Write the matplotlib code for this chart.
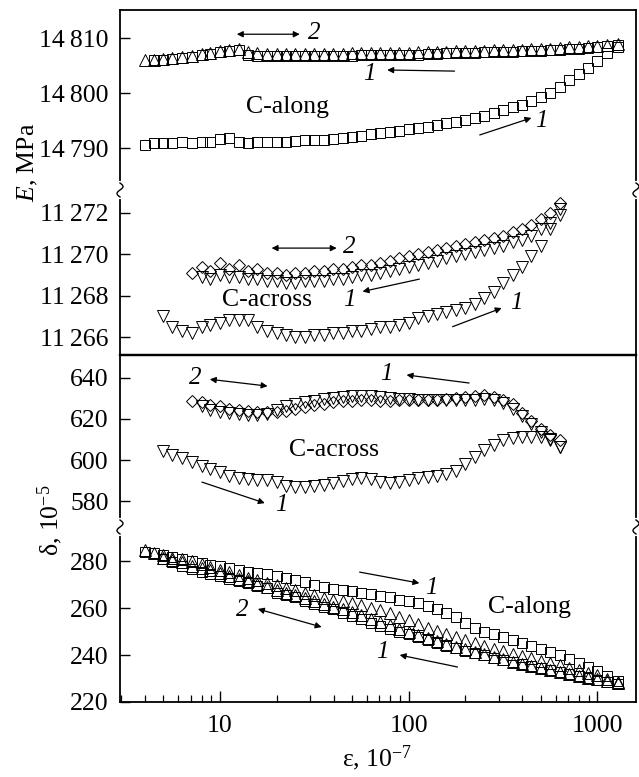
import numpy as np
import matplotlib.pyplot as plt
from matplotlib.lines import Line2D
from matplotlib.ticker import LogLocator, NullFormatter, FixedLocator

plt.rcParams['font.family'] = ['Liberation Serif', 'DejaVu Serif']
plt.rcParams['mathtext.fontset'] = 'custom'
plt.rcParams['mathtext.rm'] = 'Liberation Serif'
plt.rcParams['mathtext.it'] = 'Liberation Serif:italic'

# strain amplitude steps, 10^-7
XA = [4.0, 4.5, 5.0, 5.6, 6.3, 7.1, 8.0, 8.9, 10.0, 11.2,
      12.6, 14.1, 15.8, 17.8, 20.0, 22.4, 25.1, 28.2, 31.6, 35.5,
      39.8, 44.7, 50.1, 56.2, 63.1, 70.8, 79.4, 89.1, 100, 112,
      126, 141, 158, 178, 200, 224, 251, 282, 316, 355,
      398, 447, 501, 562, 631, 708, 794, 891, 1000, 1122,
      1280]
XC = XA[2:45]

# E, MPa  -- C-along
E_along_load = [14790.6, 14790.9, 14791.0, 14791.0, 14791.1, 14791.0, 14791.1, 14791.2, 14791.6, 14791.9,
                14791.2, 14791.0, 14791.1, 14791.1, 14791.2, 14791.2, 14791.3, 14791.4, 14791.4, 14791.5,
                14791.6, 14791.8, 14792.0, 14792.2, 14792.5, 14792.7, 14792.9, 14793.2, 14793.4, 14793.6,
                14793.9, 14794.2, 14794.5, 14794.8, 14795.1, 14795.5, 14795.9, 14796.4, 14796.9, 14797.4,
                14797.9, 14798.6, 14799.3, 14800.1, 14801.1, 14802.3, 14803.4, 14804.6, 14805.9, 14807.2,
                14808.4]
E_along_ret = [14806.0, 14806.1, 14806.2, 14806.4, 14806.6, 14806.9, 14807.1, 14807.4, 14807.6, 14807.8,
               14807.0, 14806.8, 14806.8, 14806.7, 14806.7, 14806.7, 14806.7, 14806.8, 14806.8, 14806.8,
               14806.8, 14806.8, 14806.9, 14806.9, 14806.9, 14806.9, 14807.0, 14807.0, 14807.0, 14807.1,
               14807.1, 14807.2, 14807.2, 14807.3, 14807.3, 14807.4, 14807.4, 14807.5, 14807.5, 14807.6,
               14807.7, 14807.7, 14807.8, 14807.9, 14808.0, 14808.1, 14808.2, 14808.4, 14808.6, 14808.8]
E_along_cyc = [14806.0, 14806.1, 14806.2, 14806.3, 14806.5, 14806.8, 14807.1, 14807.3, 14807.6, 14807.9,
               14808.1, 14807.4, 14807.2, 14807.1, 14807.1, 14807.1, 14807.1, 14807.1, 14807.1, 14807.1,
               14807.1, 14807.1, 14807.2, 14807.2, 14807.2, 14807.2, 14807.3, 14807.3, 14807.3, 14807.4,
               14807.4, 14807.5, 14807.5, 14807.6, 14807.6, 14807.7, 14807.7, 14807.8, 14807.8, 14807.9,
               14807.9, 14808.0, 14808.1, 14808.1, 14808.2, 14808.3, 14808.4, 14808.5, 14808.6, 14808.8,
               14809.0]

# E, MPa  -- C-across
E_across_load = [11267.0, 11266.5, 11266.3, 11266.2, 11266.5, 11266.6, 11266.7, 11266.8, 11266.8, 11266.8,
                 11266.5, 11266.3, 11266.2, 11266.1, 11266.0, 11266.0, 11266.1, 11266.1, 11266.2, 11266.2,
                 11266.3, 11266.3, 11266.4, 11266.5, 11266.5, 11266.6, 11266.7, 11266.9, 11267.0, 11267.1,
                 11267.2, 11267.3, 11267.4, 11267.6, 11267.9, 11268.2, 11268.6, 11269.0, 11269.4, 11269.9,
                 11270.4, 11271.2, 11272.2]
E_across_cyc = [11269.1, 11269.4, 11269.2, 11269.6, 11269.3, 11269.5, 11269.2, 11269.3, 11269.1, 11269.1,
                11269.0, 11269.1, 11269.1, 11269.2, 11269.2, 11269.3, 11269.3, 11269.4, 11269.5, 11269.5,
                11269.6, 11269.7, 11269.8, 11269.9, 11270.0, 11270.1, 11270.2, 11270.3, 11270.4, 11270.5,
                11270.6, 11270.7, 11270.8, 11270.9, 11271.1, 11271.2, 11271.4, 11271.7, 11272.0, 11272.5]
E_across_ret = [11268.9, 11268.8, 11269.0, 11268.9, 11268.9, 11268.8, 11268.8, 11268.7, 11268.7, 11268.6,
                11268.6, 11268.7, 11268.7, 11268.7, 11268.8, 11268.8, 11268.9, 11269.0, 11269.0, 11269.1,
                11269.2, 11269.3, 11269.4, 11269.5, 11269.6, 11269.7, 11269.8, 11269.9, 11270.0, 11270.1,
                11270.2, 11270.3, 11270.4, 11270.6, 11270.7, 11270.9, 11271.2, 11271.5, 11271.9]

# delta, 10^-5  -- C-across
D_across_load = [604.5, 602.5, 601.0, 599.0, 597.0, 595.5, 594.0, 592.5, 591.5, 590.8,
                 590.3, 590.5, 589.5, 587.5, 587.0, 587.0, 587.5, 588.0, 589.0, 590.0,
                 591.0, 591.5, 591.0, 589.5, 589.0, 589.5, 590.5, 591.3, 592.0, 592.5,
                 593.2, 594.5, 598.0, 601.5, 605.0, 607.5, 609.5, 610.8, 611.3, 611.3,
                 611.0, 609.5, 606.5]
D_across_cyc = [628.5, 628.0, 626.5, 626.0, 625.0, 624.5, 624.0, 623.5, 623.2, 623.5,
                624.0, 625.0, 625.8, 626.5, 627.0, 628.0, 628.5, 628.5, 629.0, 629.0,
                628.5, 628.5, 629.0, 629.0, 629.0, 629.0, 629.0, 629.5, 630.0, 630.5,
                631.0, 631.5, 630.5, 629.0, 627.0, 623.0, 619.0, 615.0, 612.0, 609.5]
D_across_ret = [626.0, 624.5, 623.5, 623.0, 622.5, 622.0, 622.0, 622.5, 624.5, 626.0,
                627.0, 628.0, 628.5, 629.5, 630.0, 630.5, 631.0, 631.0, 631.0, 630.5,
                630.0, 629.5, 629.5, 629.0, 629.0, 629.0, 629.0, 629.0, 629.0, 629.0,
                629.5, 629.0, 627.5, 625.0, 621.5, 617.5, 613.5, 610.0, 606.5]

# delta, 10^-5  -- C-along
D_along_load = [284.0, 283.3, 282.5, 281.8, 281.0, 280.0, 279.2, 278.5, 277.8, 277.0,
                276.2, 275.5, 275.0, 274.3, 273.6, 273.0, 272.0, 271.0, 269.8, 269.0,
                268.3, 267.8, 267.2, 266.5, 265.8, 265.2, 264.5, 263.6, 262.8, 262.0,
                261.0, 259.8, 258.0, 256.0, 253.5, 251.5, 250.0, 248.8, 247.6, 246.4,
                245.2, 244.0, 242.6, 241.2, 239.8, 238.2, 236.6, 235.0, 233.3, 231.2,
                228.8]
D_along_cyc = [284.5, 283.5, 282.5, 281.5, 280.8, 280.0, 278.8, 277.5, 276.3, 275.2,
               274.0, 273.0, 271.8, 270.5, 269.6, 268.6, 267.5, 266.4, 265.4, 264.3,
               263.5, 262.8, 262.2, 261.3, 260.2, 259.0, 257.7, 256.2, 254.7, 253.2,
               251.7, 250.2, 248.9, 247.7, 246.3, 245.0, 243.8, 242.7, 241.6, 240.6,
               239.6, 238.6, 237.6, 236.6, 235.6, 234.6, 233.5, 232.4, 231.3, 230.0,
               228.6]
D_along_ret_tri = [281.5, 280.5, 279.5, 278.0, 277.0, 276.0, 274.8, 273.6, 272.5, 271.3,
                   270.2, 269.0, 267.8, 266.6, 265.4, 264.2, 263.0, 261.8, 260.6, 259.4,
                   258.2, 257.0, 255.5, 254.0, 252.6, 251.2, 250.0, 248.6, 247.3, 246.0,
                   244.8, 243.6, 242.5, 241.4, 240.3, 239.2, 238.2, 237.2, 236.3, 235.4,
                   234.5, 233.6, 232.8, 232.0, 231.2, 230.4, 229.6, 228.8, 228.0]
D_along_ret_sq = [281.0, 279.5, 278.0, 276.8, 275.5, 274.5, 273.5, 272.5, 271.5, 270.5,
                  269.5, 268.5, 266.5, 265.5, 264.5, 263.0, 261.8, 260.5, 259.5, 258.0,
                  256.5, 255.2, 253.8, 252.5, 251.2, 250.0, 248.8, 247.6, 246.4, 245.2,
                  244.0, 242.9, 241.8, 240.8, 239.8, 238.8, 237.9, 237.0, 236.0, 235.2,
                  234.3, 233.5, 232.6, 231.8, 231.0, 230.2, 229.4, 228.6, 227.8]

W, H = 639, 777
fig = plt.figure(figsize=(W / 100, H / 100), dpi=100)


def box(top, bottom):
    return [120 / W, 1 - bottom / H, 516 / W, (bottom - top) / H]


ax1 = fig.add_axes(box(10, 190))
ax2 = fig.add_axes(box(190, 355))
ax3 = fig.add_axes(box(355, 527))
ax4 = fig.add_axes(box(527, 702))

ax1.set_ylim(14782.4, 14815.1)
ax2.set_ylim(11265.13, 11273.11)
ax3.set_ylim(567.5, 651.0)
ax4.set_ylim(220, 294.5)

yt = {ax1: [14790, 14800, 14810], ax2: [11266, 11268, 11270, 11272],
      ax3: [580, 600, 620, 640], ax4: [220, 240, 260, 280]}

for ax in (ax1, ax2, ax3, ax4):
    ax.set_xscale('log')
    ax.set_xlim(2.96, 1600)
    ax.set_facecolor('none')
    for s in ax.spines.values():
        s.set_linewidth(1.3)
    ax.yaxis.set_major_locator(FixedLocator(yt[ax]))
    ax.set_yticklabels([f'{v:,}'.replace(',', '\u2009') for v in yt[ax]])
    ax.tick_params(axis='y', which='both', direction='in', length=7, width=1,
                   labelsize=18.5, pad=8, right=False)
    if ax is not ax4:
        ax.tick_params(axis='x', which='both', bottom=False, top=False,
                       labelbottom=False)

ax1.spines['bottom'].set_visible(False)
ax2.spines['top'].set_visible(False)
ax3.spines['bottom'].set_visible(False)
ax4.spines['top'].set_visible(False)
ax2.spines['bottom'].set_linewidth(1.6)
ax3.spines['top'].set_linewidth(1.6)

ax4.xaxis.set_major_locator(LogLocator(base=10))
ax4.xaxis.set_minor_locator(LogLocator(base=10, subs=np.arange(2, 10)))
ax4.xaxis.set_minor_formatter(NullFormatter())
ax4.set_xticks([10, 100, 1000])
ax4.set_xticklabels(['10', '100', '1000'])
ax4.tick_params(axis='x', which='major', direction='in', length=8, width=1,
                labelsize=18.5, pad=9, top=False)
ax4.tick_params(axis='x', which='minor', direction='in', length=5, width=0.9,
                top=False)

mk = dict(ls='none', mfc='none', mec='black', mew=0.7)
SQ, TR, DM = 7.3, 8.2, 6.6

ax1.plot(XA[1:], E_along_ret, marker='s', ms=SQ - 0.4, **mk)
ax1.plot(XA, E_along_cyc, marker='^', ms=TR, **mk)
ax1.plot(XA, E_along_load, marker='s', ms=SQ, **mk)

ax2.plot(XA[6:45], E_across_ret, marker='v', ms=TR, **mk)
ax2.plot(XA[5:45], E_across_cyc, marker='D', ms=DM, **mk)
ax2.plot(XC, E_across_load, marker='v', ms=TR, **mk)

ax3.plot(XA[6:45], D_across_ret, marker='v', ms=TR, **mk)
ax3.plot(XA[5:45], D_across_cyc, marker='D', ms=DM, **mk)
ax3.plot(XC, D_across_load, marker='v', ms=TR, **mk)

ax4.plot(XA[2:], D_along_ret_sq, marker='s', ms=SQ, **mk)
ax4.plot(XA[2:], D_along_ret_tri, marker='^', ms=TR, **mk)
ax4.plot(XA, D_along_cyc, marker='^', ms=TR, **mk)
ax4.plot(XA, D_along_load, marker='s', ms=SQ, **mk)


def arrow(ax, start, end, both=False):
    ax.annotate('', xy=end, xytext=start,
                arrowprops=dict(arrowstyle='<|-|>' if both else '-|>', lw=0.9,
                                color='black', mutation_scale=9,
                                shrinkA=0, shrinkB=0))


def num(ax, x, y, s):
    ax.text(x, y, s, fontsize=18, style='italic', ha='center', va='center')


def name(ax, x, y, s):
    ax.text(x, y, s, fontsize=18.5, ha='center', va='center')


# top panel, C-along
arrow(ax1, (12.3, 14810.7), (26.5, 14810.7), both=True)
num(ax1, 31.8, 14810.9, '2')
arrow(ax1, (175, 14804.0), (77, 14804.2))
num(ax1, 62, 14803.4, '1')
name(ax1, 22.9, 14797.5, 'C-along')
arrow(ax1, (238, 14792.4), (447, 14795.5))
num(ax1, 506, 14794.9, '1')

# top panel, C-across
arrow(ax2, (18.8, 11270.3), (41.6, 11270.3), both=True)
num(ax2, 48.7, 11270.35, '2')
name(ax2, 17.8, 11267.8, 'C-across')
arrow(ax2, (114, 11268.8), (57, 11268.2))
num(ax2, 48.7, 11267.8, '1')
arrow(ax2, (171, 11266.5), (311, 11267.4))
num(ax2, 372, 11267.63, '1')

# bottom panel, C-across
arrow(ax3, (8.85, 639.2), (17.9, 635.9), both=True)
num(ax3, 7.4, 639.8, '2')
arrow(ax3, (209, 637.4), (97.5, 641.3))
num(ax3, 76.5, 641.6, '1')
name(ax3, 40, 604.9, 'C-across')
arrow(ax3, (8.04, 589.3), (17.3, 579.1))
num(ax3, 21.3, 578.2, '1')

# bottom panel, C-along
arrow(ax4, (15.9, 259.6), (34.6, 251.9), both=True)
num(ax4, 13.1, 259.1, '2')
arrow(ax4, (55, 275.3), (114, 270.6))
num(ax4, 132, 268.5, '1')
name(ax4, 437, 260.4, 'C-along')
arrow(ax4, (181.5, 234.9), (89.6, 240.0))
num(ax4, 72.8, 241.3, '1')


def brk(xp, yp):
    fig.add_artist(Line2D([xp / W, xp / W], [1 - (yp - 7) / H, 1 - (yp + 7) / H],
                          color='white', lw=3))
    t = np.linspace(0, 1, 30)
    fig.add_artist(Line2D((xp + 3 * np.sin(2 * np.pi * t)) / W,
                          1 - (yp - 7 + 14 * t) / H, color='black', lw=1))


for yp in (190, 527):
    brk(120, yp)
    brk(636, yp)

fig.text(28 / W, 1 - 162 / H, '$E$, MPa', rotation=90, ha='center', va='center',
         fontsize=18.5)
fig.text(50 / W, 1 - 520 / H, 'δ, 10$^{-5}$', rotation=90, ha='center', va='center',
         fontsize=18.5)
fig.text(377 / W, 1 - 758 / H, 'ε, 10$^{-7}$', ha='center', va='center',
         fontsize=18.5)

fig.savefig('out.png', dpi=100)
